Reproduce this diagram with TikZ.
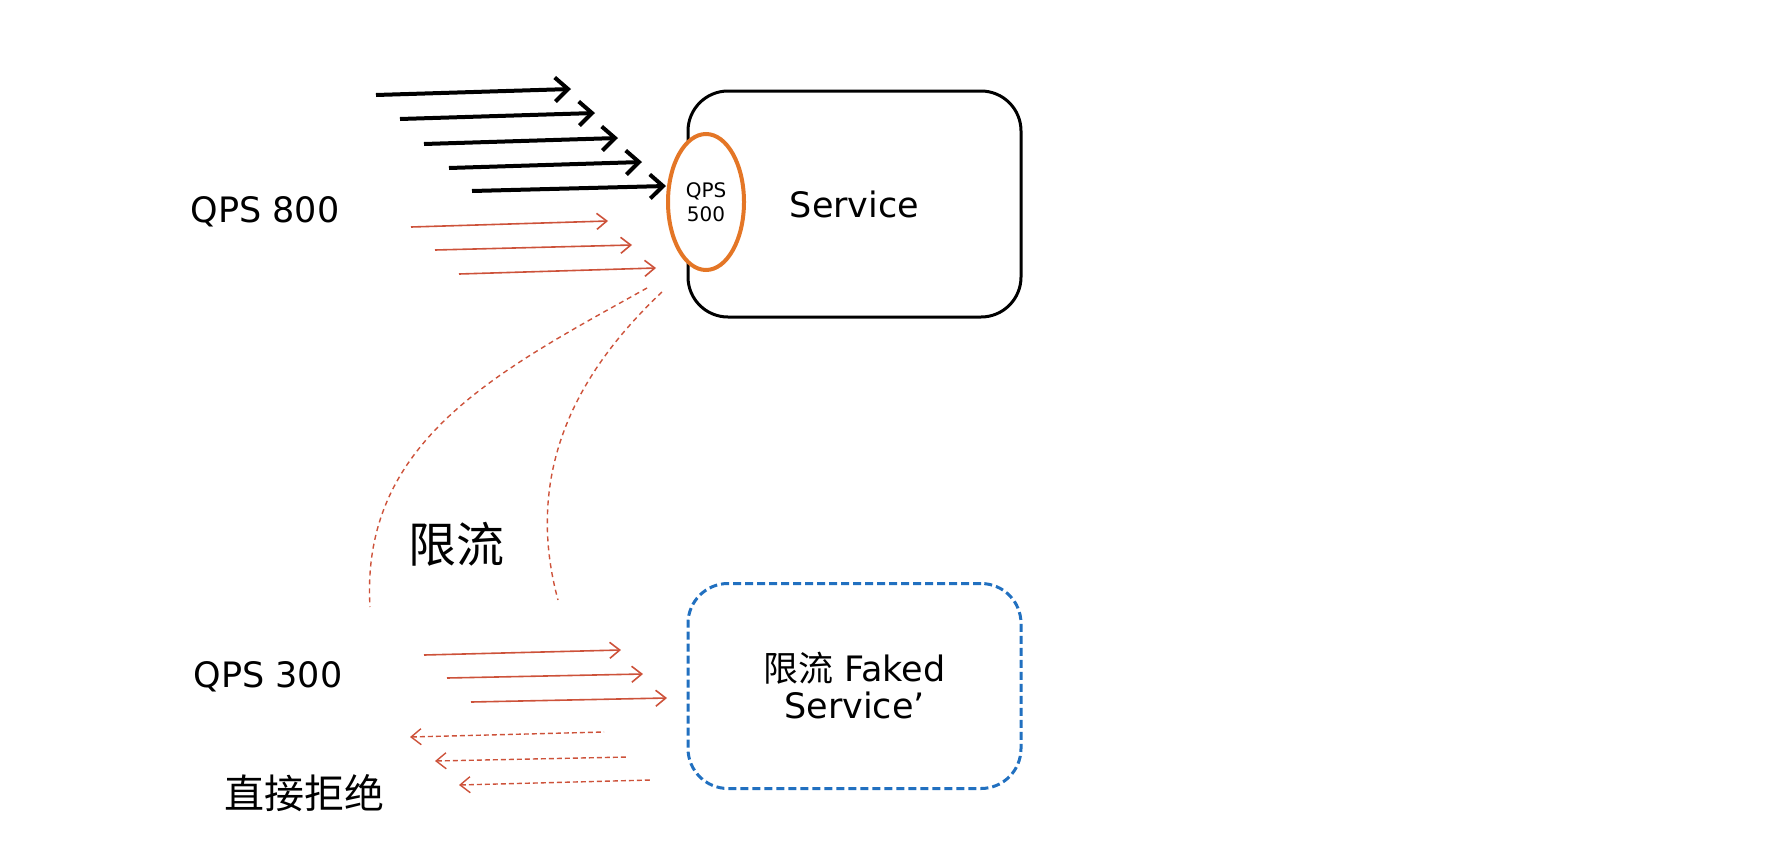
\documentclass[tikz,border=0pt]{standalone}
\usepackage{fontspec}
\setmainfont{DejaVu Sans}
\newfontfamily\cjk{Noto Sans CJK SC}
\usetikzlibrary{arrows.meta,shapes.geometric}
\definecolor{limitorange}{RGB}{228,118,38}
\definecolor{flowred}{RGB}{205,82,58}
\definecolor{fakeblue}{RGB}{33,112,192}

\begin{document}
\begin{tikzpicture}[x=0.5pt,y=-0.5pt,
  loadarrow/.style={line width=2pt,-{Straight Barb[length=6.5pt,width=12pt]}},
  passarrow/.style={draw=flowred,line width=0.8pt,-{Straight Barb[length=5pt,width=8pt]}},
  rejectarrow/.style={draw=flowred,line width=0.7pt,dash pattern=on 2.5pt off 1.5pt,{Straight Barb[length=5pt,width=8pt]}-},
  limitcurve/.style={draw=flowred,line width=0.7pt,dash pattern=on 2.5pt off 2pt},
  plaintext/.style={font=\fontsize{17.5}{20}\selectfont,inner sep=0pt}]
\useasboundingbox (0,0) rectangle (1776,867);
% service and its limiter
\node[draw=black,line width=1.5pt,rounded corners=20pt,minimum width=166.5pt,minimum height=113pt,plaintext] (svc) at (854.5,204) {Service};
\node[ellipse,draw=limitorange,line width=2pt,fill=white,minimum width=38pt,minimum height=68pt,inner sep=0pt,align=center,font=\fontsize{10}{12}\selectfont] (gate) at (706,202) {QPS\\500};
% faked service
\node[draw=fakeblue,line width=1.5pt,dash pattern=on 4pt off 2pt,rounded corners=20pt,minimum width=166.5pt,minimum height=102.5pt,plaintext,align=center,font=\fontsize{17.5}{18.5}\selectfont] (fake) at (854.5,686) {{\cjk 限流} Faked\\Service’};
% labels
\node[plaintext] (qps800) at (265,212) {QPS 800};
\node[plaintext] (qps300) at (268,677) {QPS 300};
\node[plaintext,font=\fontsize{20}{24}\selectfont\cjk] (reject) at (304,793) {直接拒绝};
\node[plaintext,font=\fontsize{24}{28}\selectfont\cjk] (limit) at (456,544) {限流};
% arrow ends
\coordinate (b1s) at (376,95);  \coordinate (b1e) at (571,89);
\coordinate (b2s) at (400,119); \coordinate (b2e) at (595,113);
\coordinate (b3s) at (424,144); \coordinate (b3e) at (618,138);
\coordinate (b4s) at (449,168); \coordinate (b4e) at (642,162);
\coordinate (b5s) at (472,191); \coordinate (b5e) at (666,186);
\coordinate (r1s) at (411,227); \coordinate (r1e) at (608,221);
\coordinate (r2s) at (435,250); \coordinate (r2e) at (632,245);
\coordinate (r3s) at (459,274); \coordinate (r3e) at (656,268);
\coordinate (c1s) at (647,288); \coordinate (c1e) at (370,607);
\coordinate (c2s) at (662,292); \coordinate (c2e) at (558,600);
\coordinate (p1s) at (424,655); \coordinate (p1e) at (621,650);
\coordinate (p2s) at (447,678); \coordinate (p2e) at (643,674);
\coordinate (p3s) at (471,702); \coordinate (p3e) at (667,698);
\coordinate (x1s) at (410,737); \coordinate (x1e) at (604,732);
\coordinate (x2s) at (435,761); \coordinate (x2e) at (628,757);
\coordinate (x3s) at (459,785); \coordinate (x3e) at (651,780);
% incoming load
\draw[loadarrow] (b1s)--(b1e);
\draw[loadarrow] (b2s)--(b2e);
\draw[loadarrow] (b3s)--(b3e);
\draw[loadarrow] (b4s)--(b4e);
\draw[loadarrow] (b5s)--(b5e);
\draw[passarrow] (r1s)--(r1e);
\draw[passarrow] (r2s)--(r2e);
\draw[passarrow] (r3s)--(r3e);
% overflow split off
\draw[limitcurve] (c1s) .. controls (500,370) and (360,440) .. (c1e);
\draw[limitcurve] (c2s) .. controls (590,360) and (520,460) .. (c2e);
% faked path
\draw[passarrow] (p1s)--(p1e);
\draw[passarrow] (p2s)--(p2e);
\draw[passarrow] (p3s)--(p3e);
\draw[rejectarrow] (x1s)--(x1e);
\draw[rejectarrow] (x2s)--(x2e);
\draw[rejectarrow] (x3s)--(x3e);
\end{tikzpicture}
\end{document}
